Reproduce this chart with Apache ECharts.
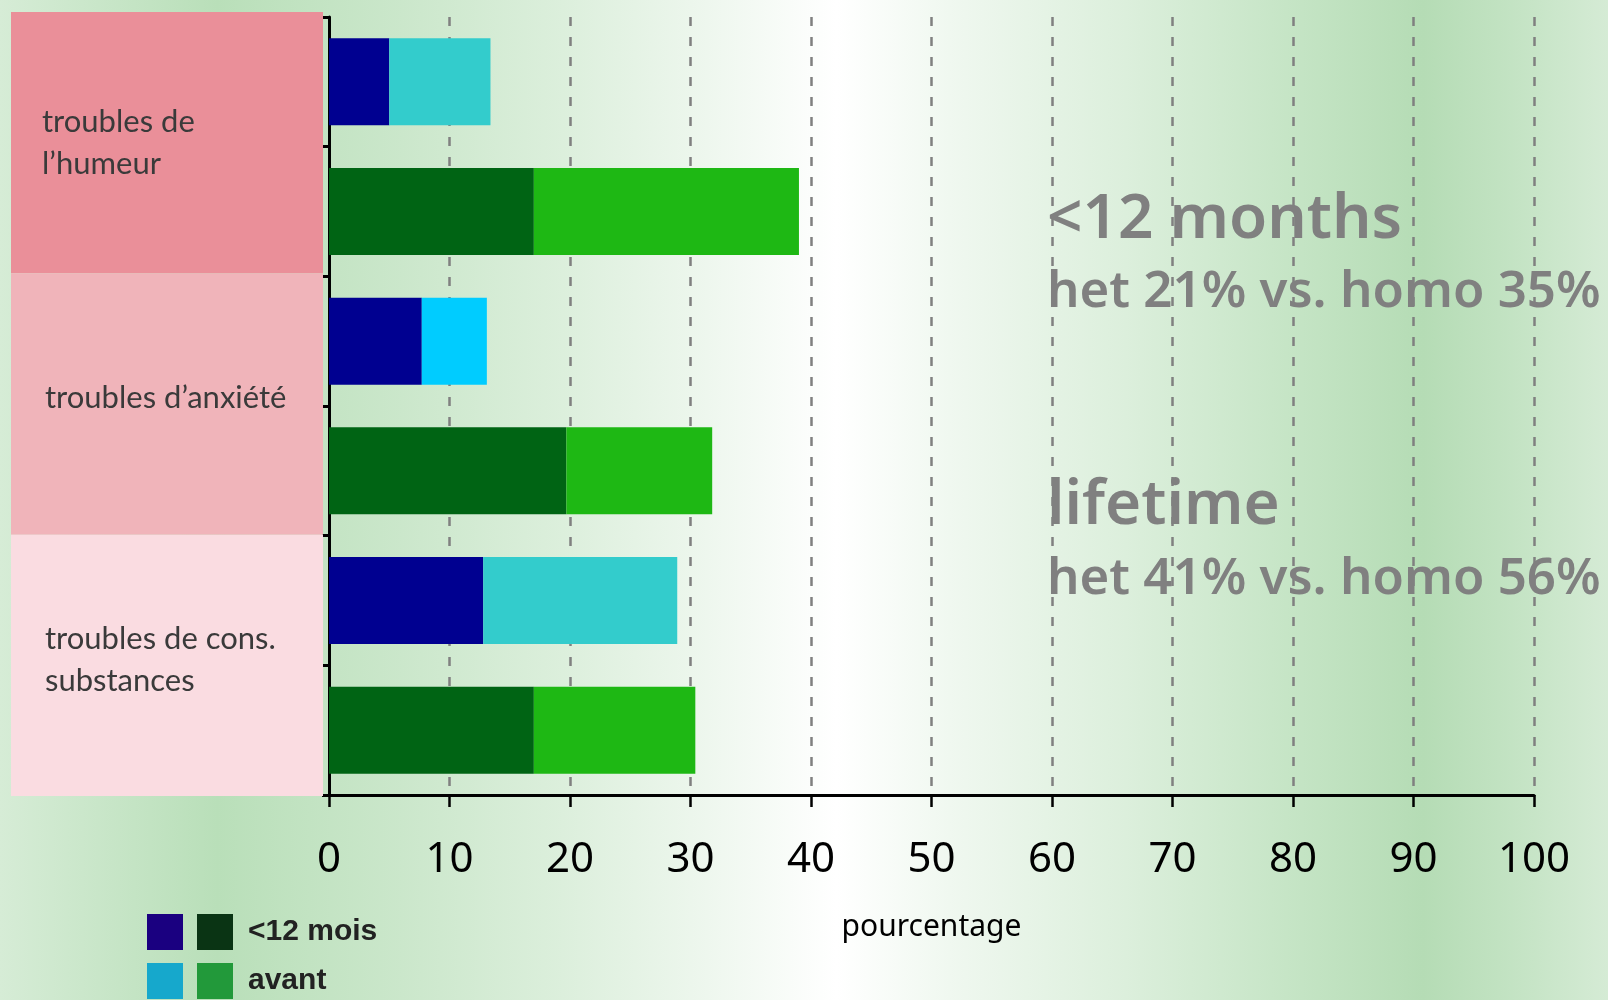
<!DOCTYPE html>
<html>
<head>
<meta charset="utf-8">
<script src="https://cdn.jsdelivr.net/npm/echarts@6/dist/echarts.min.js"></script>
<style>
  html, body { margin: 0; padding: 0; }
  #chart { width: 1608px; height: 1000px; }
</style>
</head>
<body>
<div id="chart"></div>
<script>
// ---- data ----
const groups = ['troubles de\nl’humeur', 'troubles d’anxiété', 'troubles de cons.\nsubstances'];
const cohorts = ['het', 'homo'];
const periods = ['<12 mois', 'avant'];
const het12 = [5.0, 7.7, 12.8];
const hetAvant = [8.4, 5.4, 16.1];
const homo12 = [17.0, 19.7, 17.0];
const homoAvant = [22.0, 12.1, 13.4];
const xMin = 0, xMax = 100, xStep = 10;
const notes = [
  ['<12 months', 'het 21% vs. homo 35%'],
  ['lifetime', 'het 41% vs. homo 56%']
];

// ---- derived ----
const rows = [];
groups.forEach(g => cohorts.forEach(c => rows.push(g + ' | ' + c)));
function rowData(values, cohortIdx) {
  const out = [];
  values.forEach(v => cohorts.forEach((c, k) => out.push(k === cohortIdx ? v : '-')));
  return out;
}
const names = {
  het12: 'het ' + periods[0], hetAvant: 'het ' + periods[1],
  homo12: 'homo ' + periods[0], homoAvant: 'homo ' + periods[1]
};

const chart = echarts.init(document.getElementById('chart'), null, { renderer: 'canvas' });

const bgGrad = new echarts.graphic.LinearGradient(0, 0, 1, 0, [
  { offset: 0.00, color: '#d6ecd6' },
  { offset: 0.135, color: '#b9dfb9' },
  { offset: 0.25, color: '#cbe7cb' },
  { offset: 0.35, color: '#dcefdc' },
  { offset: 0.44, color: '#eef7ee' },
  { offset: 0.52, color: '#ffffff' },
  { offset: 0.60, color: '#eef7ee' },
  { offset: 0.70, color: '#dcefdc' },
  { offset: 0.80, color: '#c6e5c6' },
  { offset: 0.885, color: '#b5dcb5' },
  { offset: 0.94, color: '#c3e3c3' },
  { offset: 1.00, color: '#d5ebd5' }
]);

// styling for the label panels
const panelColors = ['#ea8f99', '#f0b4ba', '#fadce1'];
const panelLabelOffsets = [[0, 0], [3, -6], [3, -5]];

const noteText = [];
const noteY = [[220, 292], [506, 579]];
notes.forEach((n, i) => {
  noteText.push({
    type: 'text', x: 1047, y: noteY[i][0], z: -1,
    style: { text: n[0], fill: '#808080', font: '600 62px "Noto Sans"', verticalAlign: 'middle' }
  });
  noteText.push({
    type: 'text', x: 1047, y: noteY[i][1], z: -1,
    style: { text: n[1], fill: '#808080', font: '600 51px "Noto Sans"', verticalAlign: 'middle' }
  });
});

const option = {
  backgroundColor: bgGrad,
  animation: false,
  textStyle: { fontFamily: 'Noto Sans' },
  grid: [
    { left: 329, right: 74, top: 17, bottom: 205 },
    { left: 11, width: 312, top: 12, height: 784 }
  ],
  legend: [
    {
      left: 147, top: 914, orient: 'vertical', icon: 'rect', padding: 0,
      itemWidth: 36, itemHeight: 36, itemGap: 13,
      selectedMode: false,
      formatter: () => '',
      data: [
        { name: names.het12, itemStyle: { color: '#1a0080' } },
        { name: names.hetAvant, itemStyle: { color: '#16a8cc' } }
      ]
    },
    {
      left: 197, top: 914, orient: 'vertical', icon: 'rect', padding: 0,
      itemWidth: 36, itemHeight: 36, itemGap: 13,
      selectedMode: false,
      formatter: name => name.split(' ').slice(1).join(' '),
      textStyle: { fontFamily: 'Liberation Sans', fontWeight: 'bold', fontSize: 30, color: '#222', padding: [0, 0, 0, 10] },
      data: [
        { name: names.homo12, itemStyle: { color: '#0a3414' } },
        { name: names.homoAvant, itemStyle: { color: '#22993a' } }
      ]
    }
  ],
  xAxis: [
    {
      type: 'value', gridIndex: 0, min: xMin, max: xMax, interval: xStep,
      name: 'pourcentage', nameLocation: 'middle', nameGap: 117,
      nameTextStyle: { fontFamily: 'Noto Sans', fontSize: 30, color: '#000' },
      axisLine: { show: true, lineStyle: { color: '#000', width: 3 } },
      axisTick: { show: true, length: 12, lineStyle: { color: '#000', width: 2.5 } },
      axisLabel: { fontFamily: 'Noto Sans', fontSize: 42, color: '#000', margin: 44 },
      splitLine: { show: true, lineStyle: { color: '#808080', width: 2.5, type: [9, 11] } }
    },
    { type: 'value', gridIndex: 1, min: 0, max: 1, show: false }
  ],
  yAxis: [
    {
      type: 'category', gridIndex: 0, data: rows, inverse: true,
      axisLine: { show: true, lineStyle: { color: '#000', width: 3 } },
      axisTick: { show: true, length: 7, lineStyle: { color: '#000', width: 3 } },
      axisLabel: { show: false },
      splitLine: { show: false }
    },
    { type: 'category', gridIndex: 1, data: groups, inverse: true, show: false }
  ],
  graphic: noteText,
  series: [
    {
      name: 'panels', type: 'bar', xAxisIndex: 1, yAxisIndex: 1, silent: true,
      barWidth: '100%', legendHoverLink: false,
      data: groups.map((g, i) => ({
        value: 1,
        itemStyle: { color: panelColors[i] },
        label: { offset: panelLabelOffsets[i] }
      })),
      label: {
        show: true, position: 'insideLeft', distance: 31, formatter: '{b}',
        fontFamily: 'Lato', fontSize: 31, lineHeight: 42, color: '#3a3a3a'
      }
    },
    {
      name: names.het12, type: 'bar', stack: 'all', barWidth: 87,
      itemStyle: { color: '#000090' }, data: rowData(het12, 0)
    },
    {
      name: names.hetAvant, type: 'bar', stack: 'all', barWidth: 87,
      itemStyle: { color: '#33cccc' },
      data: rowData(hetAvant, 0).map((v, i) => (i === 2 ? { value: v, itemStyle: { color: '#00ccff' } } : v))
    },
    {
      name: names.homo12, type: 'bar', stack: 'all', barWidth: 87,
      itemStyle: { color: '#006414' }, data: rowData(homo12, 1)
    },
    {
      name: names.homoAvant, type: 'bar', stack: 'all', barWidth: 87,
      itemStyle: { color: '#1eb814' }, data: rowData(homoAvant, 1)
    }
  ]
};
chart.setOption(option);
</script>
</body>
</html>
